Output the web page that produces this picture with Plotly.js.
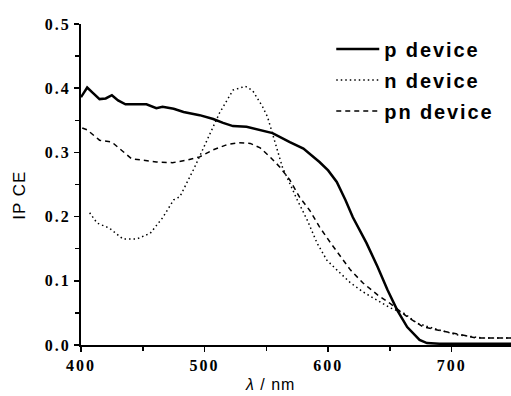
<!DOCTYPE html>
<html><head><meta charset="utf-8">
<script src="https://cdn.plot.ly/plotly-3.0.1.min.js"></script>
<style>
body{margin:0;background:#fff}#chart{width:511px;height:396px}
.xtick text,.ytick text{letter-spacing:2px;font-family:"Liberation Serif","Times New Roman",serif !important;font-weight:bold !important}
.legendtext{letter-spacing:1.9px}
.annotation-text{letter-spacing:1px}
</style>
</head><body><div id="chart"></div>
<script>
const pWave = [400,405,410,415,420,425,430,436,445,453,461,466,475,483,496,507,515,523,534,545,555,569,580,593,600,607,614,620,631,640,648,656,664,674,680,690,700,720,750];
const pIPCE = [0.386,0.401,0.392,0.383,0.384,0.389,0.381,0.375,0.375,0.375,0.369,0.371,0.368,0.363,0.358,0.352,0.346,0.341,0.340,0.335,0.330,0.316,0.306,0.285,0.272,0.254,0.226,0.199,0.159,0.122,0.086,0.054,0.028,0.008,0.003,0.002,0.002,0.002,0.002];

const nWave = [407,413,423,434,445,456,466,475,480,491,502,512,523,533,539,547,551,558,563,575,583,591,599,607,618,628,640,650,661,672,685,704,725,748];
const nIPCE = [0.206,0.190,0.182,0.165,0.165,0.174,0.198,0.226,0.231,0.273,0.319,0.361,0.397,0.403,0.396,0.371,0.355,0.308,0.277,0.226,0.195,0.159,0.132,0.117,0.097,0.083,0.070,0.058,0.050,0.034,0.026,0.016,0.011,0.011];

const pnWave = [401,405,415,425,433,441,450,461,474,486,496,507,518,527,537,545,553,561,569,577,585,593,602,610,618,628,640,650,664,677,699,720,748];
const pnIPCE = [0.338,0.335,0.319,0.316,0.303,0.290,0.288,0.285,0.284,0.288,0.293,0.304,0.312,0.315,0.314,0.307,0.293,0.277,0.257,0.230,0.210,0.184,0.159,0.137,0.117,0.097,0.078,0.065,0.044,0.028,0.019,0.011,0.011];

const seriesNames = ['p device','n device','pn device'];
const xTicks = [400,500,600,700];
const yTicks = [0.0,0.1,0.2,0.3,0.4,0.5];

const traces = [
  {x:pWave, y:pIPCE, name:seriesNames[0], mode:'lines', legendgroup:'a', line:{color:'#000',width:2.5}},
  {x:nWave, y:nIPCE, name:seriesNames[1], mode:'lines', legendgroup:'b', line:{color:'#000',width:1.5,dash:'1.5px,3px'}},
  {x:pnWave, y:pnIPCE, name:seriesNames[2], mode:'lines', legendgroup:'c', line:{color:'#000',width:1.5,dash:'5px,4px'}}
];

const tickFont = {family:'Liberation Serif', size:16, color:'#000', weight:'bold'};
const layout = {
  width:511, height:396,
  margin:{l:81, r:0, t:24, b:51},
  paper_bgcolor:'#fff', plot_bgcolor:'#fff',
  showlegend:true,
  legend:{x:0.582, y:0.983, xanchor:'left', yanchor:'top', bgcolor:'rgba(0,0,0,0)', itemwidth:43,
    font:{family:'Liberation Sans', size:20, color:'#000', weight:'bold'}, tracegroupgap:2},
  xaxis:{range:[400,748], tickvals:xTicks, ticktext:xTicks.map(String), showgrid:false, zeroline:false,
    showline:true, linecolor:'#000', linewidth:2, ticks:'outside', ticklen:5, tickwidth:1.5, tickcolor:'#000',
    minor:{dtick:50, tick0:400, ticks:'outside', ticklen:4, tickwidth:1.5, tickcolor:'#000', showgrid:false},
    tickfont:tickFont, fixedrange:true},
  yaxis:{range:[0,0.5], tickvals:yTicks, ticktext:yTicks.map(v=>v.toFixed(1)), showgrid:false, zeroline:false,
    showline:true, linecolor:'#000', linewidth:2, ticks:'outside', ticklen:5, tickwidth:1.5, tickcolor:'#000',
    minor:{dtick:0.05, tick0:0, ticks:'outside', ticklen:4, tickwidth:1.5, tickcolor:'#000', showgrid:false},
    tickfont:tickFont, fixedrange:true},
  annotations:[
    {text:'IP CE', xref:'paper', yref:'paper', x:-0.145, y:0.467, textangle:-90, showarrow:false,
      xanchor:'center', yanchor:'middle', font:{family:'Liberation Sans', size:17, color:'#000'}},
    {text:'<i>λ</i> / nm', xref:'paper', yref:'paper', x:0.44, y:-0.09, showarrow:false,
      xanchor:'center', yanchor:'top', font:{family:'Liberation Sans', size:16, color:'#000'}}
  ]
};
Plotly.newPlot('chart', traces, layout, {displayModeBar:false, staticPlot:true});
</script></body></html>
